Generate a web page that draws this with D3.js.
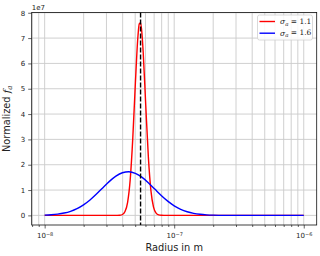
<!DOCTYPE html>
<html>
<head>
<meta charset="utf-8">
<script src="https://cdn.jsdelivr.net/npm/d3@7"></script>
<style>
  body { margin: 0; background: white; }
  text { font-family: "DejaVu Sans", sans-serif; }
</style>
</head>
<body>
<div id="chart"></div>
<script>
// values
var redR = [1e-8, 3.3e-8, 3.634e-8, 3.805e-8, 3.984e-8, 4.172e-8, 4.369e-8, 4.575e-8, 4.791e-8, 5.016e-8,
            5.253e-8, 5.375e-8, 5.5e-8, 5.628e-8, 5.759e-8, 6.031e-8, 6.315e-8, 6.612e-8, 6.924e-8, 7.25e-8,
            7.592e-8, 7.95e-8, 8.325e-8, 9e-8, 1e-6];
var redF = [0, 0, 9.0e3, 6.26e4, 3.44e5, 1.5e6, 5.17e6, 1.41e7, 3.06e7, 5.23e7,
            7.09e7, 7.56e7, 7.61e7, 7.22e7, 6.47e7, 4.35e7, 2.32e7, 9.78e6, 3.26e6, 8.64e5,
            1.81e5, 3.0e4, 4.0e3, 0, 0];
var blueR = [1e-8, 1.122e-8, 1.259e-8, 1.413e-8, 1.585e-8, 1.778e-8, 1.995e-8, 2.239e-8, 2.512e-8, 2.818e-8,
             3.162e-8, 3.548e-8, 3.981e-8, 4.467e-8, 5.012e-8, 5.623e-8, 6.31e-8, 7.079e-8, 7.943e-8, 8.913e-8,
             1e-7, 1.122e-7, 1.259e-7, 1.413e-7, 1.585e-7, 1.778e-7, 1.995e-7, 2.512e-7, 3.162e-7, 5e-7, 1e-6];
var blueF = [1.18e5, 2.48e5, 4.92e5, 9.16e5, 1.61e6, 2.66e6, 4.15e6, 6.09e6, 8.41e6, 1.095e7,
             1.342e7, 1.549e7, 1.683e7, 1.723e7, 1.661e7, 1.508e7, 1.289e7, 1.038e7, 7.87e6, 5.62e6,
             3.78e6, 2.40e6, 1.43e6, 8.03e5, 4.25e5, 2.12e5, 9.9e4, 1.8e4, 2.7e3, 0, 0];
var medianR = 5.5e-8;
var sigmas = ['1.1', '1.6'];
var yTicks = [0, 1e7, 2e7, 3e7, 4e7, 5e7, 6e7, 7e7, 8e7];
var xMajor = [1e-8, 1e-7, 1e-6];
var xExp = ['\u22128', '\u22127', '\u22126'];

var W = 320, H = 256;
var margin = { top: 12.5, right: 3.3, bottom: 31, left: 31.7 };
var width = W - margin.left - margin.right,
    height = H - margin.top - margin.bottom;

var x = d3.scaleLog()
   .domain([Math.pow(10, -8.1), Math.pow(10, -5.9)])
   .range([0, width]);
var y = d3.scaleLinear()
   .domain([-0.38e7, 8.01e7])
   .range([height, 0]);

// minor tick positions inside the visible range
var xMinor = [];
[-9, -8, -7, -6].forEach(function(e) {
  for (var k = 2; k <= 9; k++) {
    var v = k * Math.pow(10, e);
    if (v >= x.domain()[0] && v <= x.domain()[1]) xMinor.push(v);
  }
});

var svg = d3.select('#chart').append('svg')
   .attr('width', W).attr('height', H);
var g = svg.append('g')
   .attr('transform', 'translate(' + margin.left + ',' + margin.top + ')');

// grid
g.selectAll('.vgrid')
   .data(xMajor.concat(xMinor))
   .enter().append('line')
   .attr('x1', function(d) { return x(d); })
   .attr('x2', function(d) { return x(d); })
   .attr('y1', 0).attr('y2', height)
   .style('stroke', '#cbcbcb').style('stroke-width', 0.9);
g.selectAll('.hgrid')
   .data(yTicks)
   .enter().append('line')
   .attr('x1', 0).attr('x2', width)
   .attr('y1', function(d) { return y(d); })
   .attr('y2', function(d) { return y(d); })
   .style('stroke', '#cbcbcb').style('stroke-width', 0.9);

var line = d3.line()
   .x(function(d) { return x(d[0]); })
   .y(function(d) { return y(d[1]); })
   .curve(d3.curveMonotoneX);

g.append('path')
   .datum(d3.zip(redR, redF))
   .attr('d', line)
   .style('fill', 'none').style('stroke', '#ff0000').style('stroke-width', 1.4);
g.append('path')
   .datum(d3.zip(blueR, blueF))
   .attr('d', line)
   .style('fill', 'none').style('stroke', '#0000ff').style('stroke-width', 1.4);

g.append('line')
   .attr('x1', x(medianR)).attr('x2', x(medianR))
   .attr('y1', 0).attr('y2', height)
   .style('stroke', 'black').style('stroke-width', 1.4)
   .style('stroke-dasharray', '5,2');

// axes
var yAxis = g.append('g')
   .call(d3.axisLeft(y).tickValues(yTicks).tickSize(3.5).tickPadding(3)
     .tickFormat(function(d) { return d / 1e7; }));
var xAxis = g.append('g')
   .attr('transform', 'translate(0,' + height + ')')
   .call(d3.axisBottom(x).tickValues(xMajor).tickSize(3.5).tickPadding(3)
     .tickFormat(function() { return ''; }));
g.append('g')
   .attr('transform', 'translate(0,' + height + ')')
   .call(d3.axisBottom(x).tickValues(xMinor).tickSize(2).tickFormat(function() { return ''; }))
   .select('.domain').remove();

[yAxis, xAxis].forEach(function(a) {
  a.select('.domain').remove();
  a.selectAll('text').style('font-size', '7px').style('fill', '#222');
});
g.selectAll('.tick line').style('stroke', '#222').style('stroke-width', 0.7);

var xl = xAxis.selectAll('.tick text').attr('dy', '0.9em');
xl.each(function(d, i) {
  var t = d3.select(this);
  t.append('tspan').text('10');
  t.append('tspan').attr('dy', '-0.45em').style('font-size', '5px').text(xExp[i]);
});

// frame
g.append('rect')
   .attr('width', width).attr('height', height)
   .style('fill', 'none').style('stroke', '#111').style('stroke-width', 0.8);

// offset text
g.append('text')
   .attr('x', 0).attr('y', -3)
   .style('font-size', '7px').style('fill', '#222')
   .text('1e7');

// labels
svg.append('text')
   .attr('x', margin.left + width / 2).attr('y', 251)
   .attr('text-anchor', 'middle')
   .style('font-size', '9.8px').style('fill', '#222')
   .text('Radius in m');
var yl = svg.append('text')
   .attr('transform', 'translate(10,' + (margin.top + height / 2) + ') rotate(-90)')
   .attr('text-anchor', 'middle')
   .style('font-size', '9.8px').style('fill', '#222');
yl.append('tspan').text('Normalized ');
yl.append('tspan').style('font-style', 'italic').style('font-family', 'DejaVu Serif').text('f');
yl.append('tspan').attr('dy', '0.3em').style('font-size', '7px').style('font-style', 'italic')
   .style('font-family', 'DejaVu Serif').text('a');

// legend
var leg = svg.append('g').attr('transform', 'translate(257.5,15)');
leg.append('rect')
   .attr('width', 55).attr('height', 25).attr('rx', 2)
   .style('fill', 'white').style('fill-opacity', 0.85)
   .style('stroke', '#d0d0d0').style('stroke-width', 0.8);
var legColors = ['#ff0000', '#0000ff'];
sigmas.forEach(function(s, i) {
  var row = leg.append('g').attr('transform', 'translate(0,' + (6.5 + i * 11.7) + ')');
  row.append('line')
     .attr('x1', 2).attr('x2', 17.5)
     .style('stroke', legColors[i]).style('stroke-width', 1.4);
  var t = row.append('text')
     .attr('x', 22.5).attr('dy', '0.35em')
     .style('font-family', 'DejaVu Serif').style('font-size', '7.5px').style('fill', '#222');
  t.append('tspan').style('font-style', 'italic').text('\u03c3');
  t.append('tspan').attr('dy', '0.3em').style('font-size', '5.5px').style('font-style', 'italic').text('a');
  t.append('tspan').attr('dy', '-0.3em').text(' = ' + s);
});
</script>
</body>
</html>
